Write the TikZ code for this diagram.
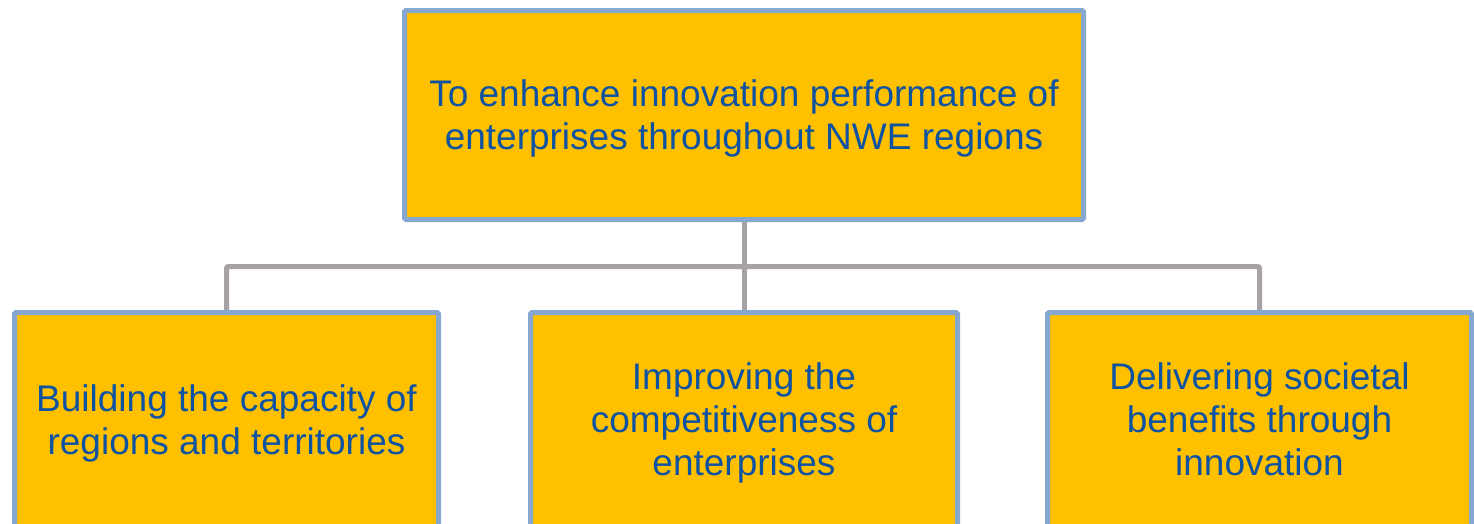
\documentclass[tikz,border=0pt]{standalone}
\usepackage{fontspec}
\setmainfont{Liberation Sans}
\definecolor{boxfill}{RGB}{255,192,0}
\definecolor{boxline}{RGB}{134,168,208}
\definecolor{txtblue}{RGB}{14,82,162}
\definecolor{linkgrey}{RGB}{166,162,166}
\newcommand\linestrut{\rule[-9pt]{0pt}{43pt}}
\tikzset{
  goalbox/.style={rectangle, draw=boxline, fill=boxfill, line width=5pt, rounded corners=1.5pt,
    inner sep=0pt, align=center, text=txtblue, font=\fontsize{37}{43}\selectfont},
  link/.style={draw=linkgrey, line width=5pt, rounded corners=2pt}
}
\begin{document}
\begin{tikzpicture}[x=1pt,y=-1pt]
\useasboundingbox (0,0) rectangle (1474,523);
\clip (0,0) rectangle (1474,523);
\fill[white] (0,0) rectangle (1474,523);
\node[goalbox, minimum width=679pt, minimum height=209pt] (top) at (744,115)
  {\linestrut To enhance innovation performance of\\enterprises throughout NWE regions\linestrut};
\node[goalbox, minimum width=424pt, minimum height=215.5pt] (left) at (226.5,420.25)
  {\linestrut Building the capacity of\\regions and territories\linestrut};
\node[goalbox, minimum width=427pt, minimum height=215.5pt] (mid) at (744,420.25)
  {\linestrut Improving the\\competitiveness of\\enterprises\linestrut};
\node[goalbox, minimum width=424pt, minimum height=215.5pt] (right) at (1259.5,420.25)
  {\linestrut Delivering societal\\benefits through\\innovation\linestrut};
\coordinate (bus) at (744,266.5);
\draw[link] (left.north) |- (bus) -| (right.north);
\draw[link] (top.south) -- (mid.north);
\end{tikzpicture}
\end{document}
